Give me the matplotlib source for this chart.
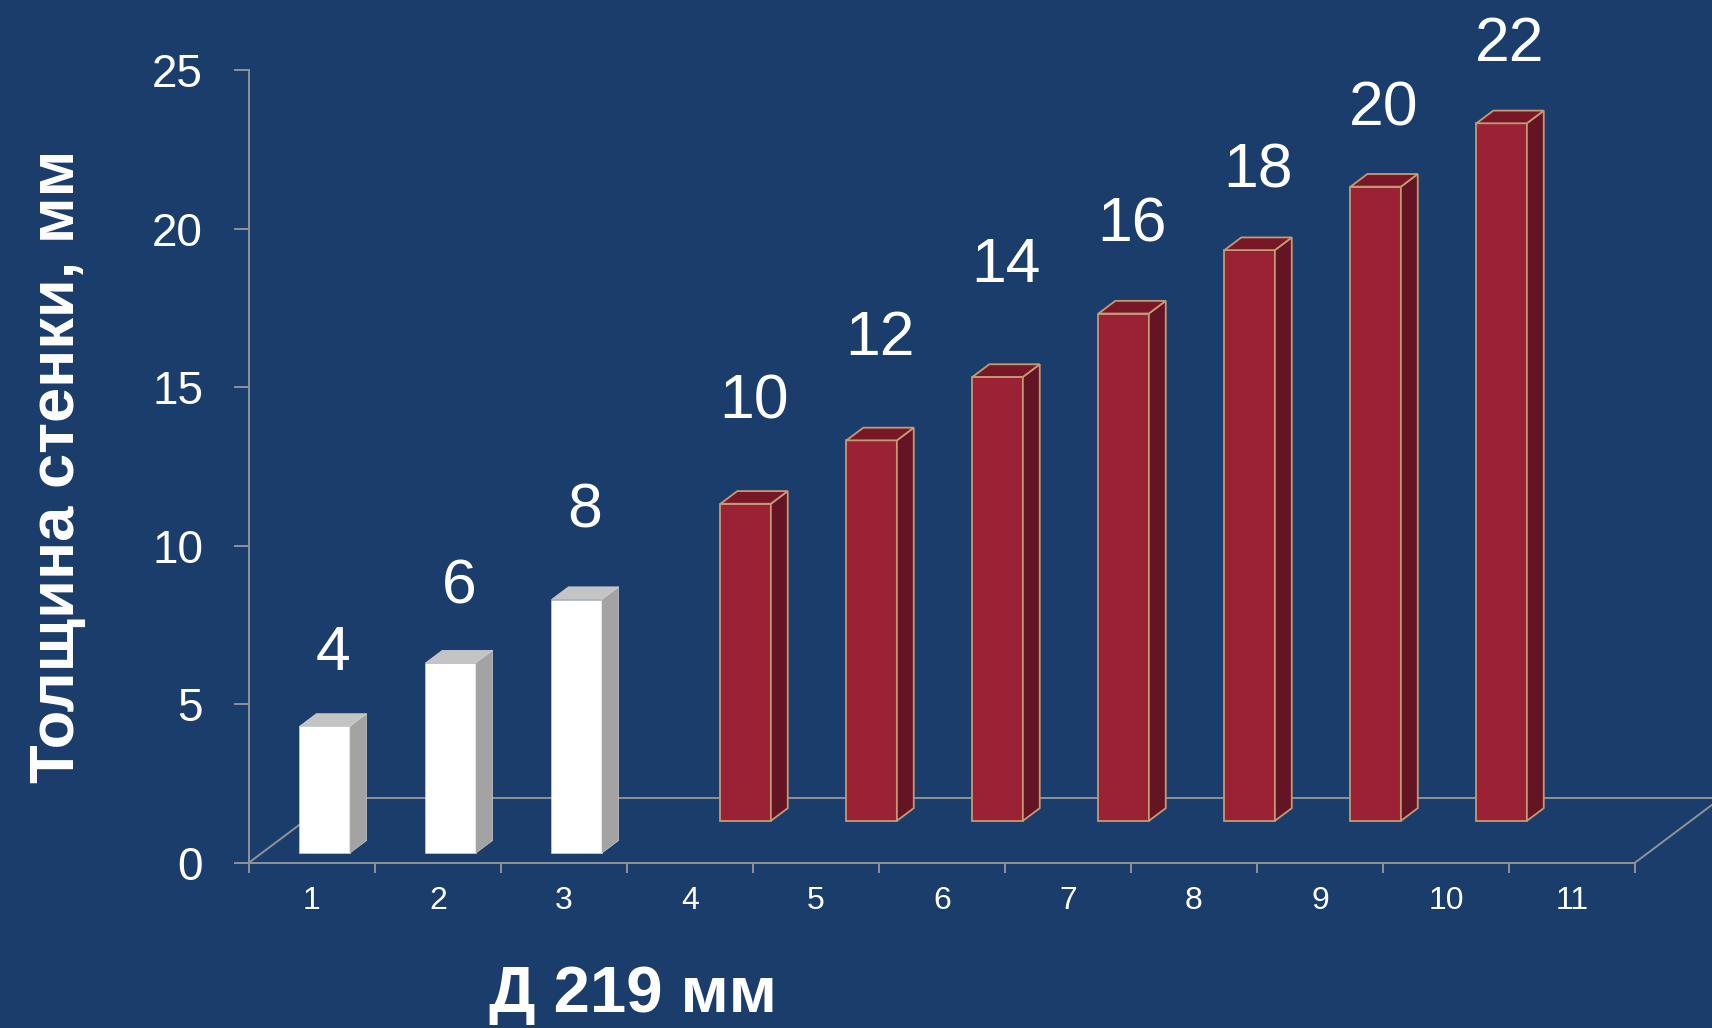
import numpy as np
import matplotlib
matplotlib.use("Agg")
import matplotlib.pyplot as plt

plt.rcParams['font.family'] = ['Liberation Sans', 'DejaVu Sans']

# data
categories = ['1', '2', '3', '4', '5', '6', '7', '8', '9', '10', '11']
front_vals = [4, 6, 8, np.nan, np.nan, np.nan, np.nan, np.nan, np.nan, np.nan, np.nan]
back_vals = [np.nan, np.nan, np.nan, 10, 12, 14, 16, 18, 20, 22, np.nan]
y_ticks = [0, 5, 10, 15, 20, 25]
y_title = 'Толщина стенки, мм'
x_title = 'Д 219 мм'

# value label lift above bar top (layout nudges)
label_lift = [2.3, 2.4, 2.8, 3.2, 3.2, 3.5, 2.8, 2.5, 2.45, 2.5, 0]

bg = '#1b3d6b'
grey = '#8f9399'

# fake 3d geometry
K = 0.335        # x shift (categories) per unit of depth
FLOOR = 2.03     # floor depth in y units
W = 0.40         # bar width
D = 0.40         # bar depth
OFF = 0.30       # bar left offset inside category

fig = plt.figure(figsize=(17.12, 10.28), dpi=100, facecolor=bg)
ax = fig.add_axes([0.1454, 0.1608, 0.8096, 0.7711])
ax.set_facecolor(bg)
ax.set_xlim(0, 11)
ax.set_ylim(0, 25)

# floor
ax.plot([0, FLOOR * K], [0, FLOOR], color=grey, lw=1.4, zorder=1, clip_on=False)
ax.plot([FLOOR * K, 11 + FLOOR * K], [FLOOR, FLOOR], color=grey, lw=1.4, zorder=1, clip_on=False)
ax.plot([11, 11 + FLOOR * K], [0, FLOOR], color=grey, lw=1.4, zorder=1, clip_on=False)


def draw_row(vals, z, front, side, top, edge, ew):
    x = np.arange(len(vals)) + OFF + z * K
    v = np.array(vals, dtype=float)
    ok = ~np.isnan(v)
    ax.bar(x[ok], v[ok], width=W, bottom=z, align='edge', color=front,
           edgecolor=edge, linewidth=ew, zorder=3)
    dx, dy = D * K, D
    for xi, vi in zip(x[ok], v[ok]):
        xr = xi + W
        ax.fill([xr, xr + dx, xr + dx, xr], [z, z + dy, z + vi + dy, z + vi],
                color=side, ec=edge, lw=ew, zorder=3)
        ax.fill([xi, xr, xr + dx, xi + dx], [z + vi, z + vi, z + vi + dy, z + vi + dy],
                color=top, ec=edge, lw=ew, zorder=3)
    return x, v, ok


xb, vb, okb = draw_row(back_vals, 1.32, '#9b2234', '#641422', '#781826', '#c49a74', 1.3)
xf, vf, okf = draw_row(front_vals, 0.30, '#ffffff', '#a3a3a3', '#c4c4c4', '#d8d8d8', 0.4)

for x, v, ok, z in [(xf, vf, okf, 0.30), (xb, vb, okb, 1.32)]:
    for i in np.where(ok)[0]:
        ax.text(x[i] + W / 2 + D * K / 2, v[i] + z + label_lift[i], f'{v[i]:.0f}',
                ha='center', va='center', color='white', fontsize=45, zorder=5)

# axes
for s in ['top', 'right']:
    ax.spines[s].set_visible(False)
for s in ['left', 'bottom']:
    ax.spines[s].set_color(grey)
    ax.spines[s].set_linewidth(1.4)

ax.set_yticks(y_ticks)
ax.set_yticklabels([str(t) for t in y_ticks])
ax.tick_params(axis='y', colors=grey, labelcolor='white', labelsize=33,
               length=11, width=1.4, pad=22)

ax.set_xticks(np.arange(0, 12))
ax.set_xticklabels([])
ax.set_xticks(np.arange(len(categories)) + 0.5, minor=True)
ax.set_xticklabels(categories, minor=True)
ax.tick_params(axis='x', which='major', colors=grey, length=7, width=1.4)
ax.tick_params(axis='x', which='minor', length=0, labelcolor='white',
               labelsize=23, pad=17)

fig.text(57 / 1712, 1 - 466 / 1028, y_title, rotation=90, ha='center', va='center',
         color='white', fontsize=45.5, fontweight='bold')
fig.text(633 / 1712, 1 - 1012 / 1028, x_title, ha='center', va='baseline',
         color='white', fontsize=47, fontweight='bold')

fig.savefig('out.png', dpi=100, facecolor=bg)
